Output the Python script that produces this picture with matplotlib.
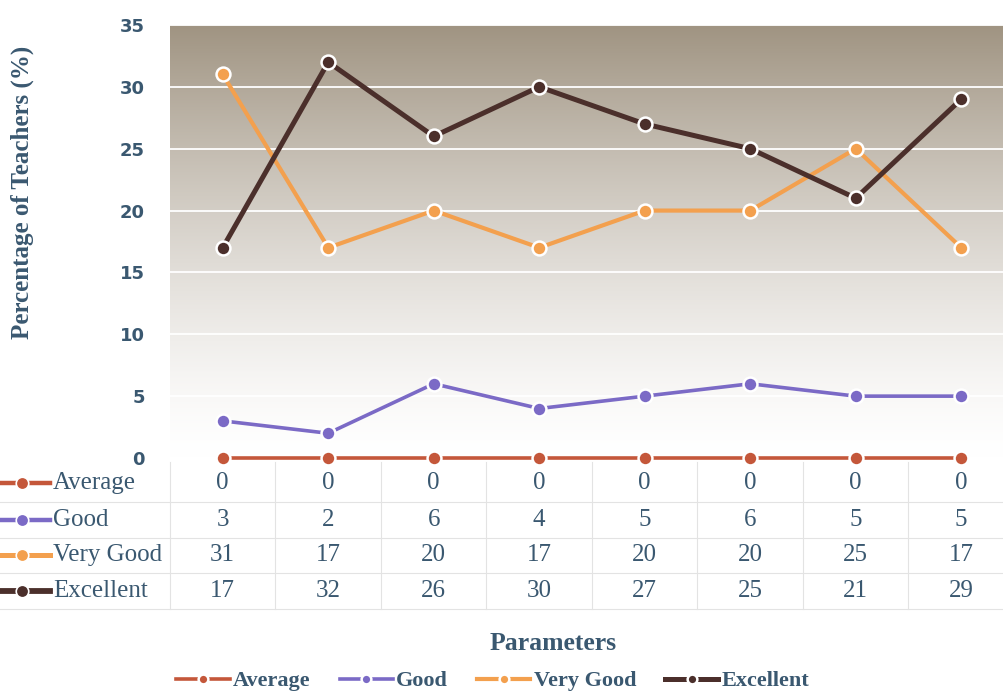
import numpy as np
import matplotlib.pyplot as plt
import matplotlib.transforms as mtransforms
from matplotlib.lines import Line2D

series = ["Average", "Good", "Very Good", "Excellent"]
average = [0, 0, 0, 0, 0, 0, 0, 0]
good = [3, 2, 6, 4, 5, 6, 5, 5]
very_good = [31, 17, 20, 17, 20, 20, 25, 17]
excellent = [17, 32, 26, 30, 27, 25, 21, 29]
yticks = [0, 5, 10, 15, 20, 25, 30, 35]

colors = ["#C4573A", "#7B6AC6", "#F3A04E", "#4B2F2B"]
widths = [2.6, 2.6, 3.0, 3.6]
txt_col = "#3A5870"
serif = "Liberation Serif"

fig = plt.figure(figsize=(10.04, 6.93), dpi=100)
ax = fig.add_axes([170 / 1004, 235 / 693, 844 / 1004, 433 / 693])

x = np.arange(len(good))
ax.set_xlim(-0.5, len(good) - 0.5)
ax.set_ylim(0, 35)

# gradient background, greyish brown at top fading to white
h = 200
t = np.linspace(1, 0, h) ** 1.4
top = np.array([160, 148, 130]) / 255
grad = np.ones((h, 1, 3)) * (1 - t[:, None, None]) + top * t[:, None, None]
ax.imshow(grad, extent=[-0.5, len(good) - 0.5, 0, 35], aspect="auto", zorder=0)

for yv in yticks[1:]:
    ax.axhline(yv, color="white", lw=1.3, zorder=1)

data = [average, good, very_good, excellent]
for vals, c, w, name in zip(data, colors, widths, series):
    ax.plot(x, vals, color=c, lw=w, marker="o", ms=10, mfc=c, mec="white",
            mew=1.8, zorder=3, clip_on=False, label=name)

ax.set_yticks(yticks)
ax.set_yticklabels([str(v) for v in yticks], fontsize=13, fontweight="bold",
                   color=txt_col, fontfamily="DejaVu Sans")
ax.tick_params(axis="y", length=0, pad=18)
ax.set_xticks([])
for s in ax.spines.values():
    s.set_visible(False)

# data table below the plot
trans = mtransforms.blended_transform_factory(ax.transData, fig.transFigure)
row_y = [483, 520, 555, 591]
for vals, ry in zip(data, row_y):
    for xi, v in zip(x, vals):
        ax.text(xi, 1 - ry / 693, str(v), transform=trans, ha="center",
                va="center", fontsize=18, fontfamily=serif, color=txt_col)

grid_c = "#E3E3E3"
for xb in np.arange(-0.5, len(good) + 0.5, 1):
    ax.add_line(Line2D([xb, xb], [1 - 462 / 693, 1 - 609 / 693], transform=trans,
                       color=grid_c, lw=0.8, clip_on=False))
for yb in [502, 538, 573, 609]:
    fig.add_artist(Line2D([0, 1], [1 - yb / 693] * 2, color=grid_c, lw=0.8))

for name, c, w, ry in zip(series, colors, widths, row_y):
    yy = 1 - ry / 693
    fig.add_artist(Line2D([0 / 1004, 50 / 1004], [yy, yy], color=c, lw=w + 0.6))
    fig.add_artist(Line2D([22 / 1004], [yy], color=c, marker="o", ms=9,
                          mec="white", mew=1.2))
    fig.text(53 / 1004, yy, name, ha="left", va="center", fontsize=18,
             fontfamily=serif, color=txt_col)

fig.text(22 / 1004, 1 - 192 / 693, "Percentage of Teachers (%)", rotation=90,
         ha="center", va="center", fontsize=18, fontweight="bold",
         fontfamily=serif, color=txt_col)
fig.text(553 / 1004, 1 - 643 / 693, "Parameters", ha="center", va="center",
         fontsize=18.5, fontweight="bold", fontfamily=serif, color=txt_col)

handles, labels = ax.get_legend_handles_labels()
leg = fig.legend(handles, labels, loc="center", bbox_to_anchor=(493 / 1004, 1 - 681 / 693),
                 ncol=4, frameon=False, handlelength=2.4, columnspacing=1.3,
                 handletextpad=0.15, prop={"family": serif, "weight": "bold", "size": 16},
                 markerscale=0.7)
for tx in leg.get_texts():
    tx.set_color(txt_col)

fig.savefig("out.png", dpi=100)
